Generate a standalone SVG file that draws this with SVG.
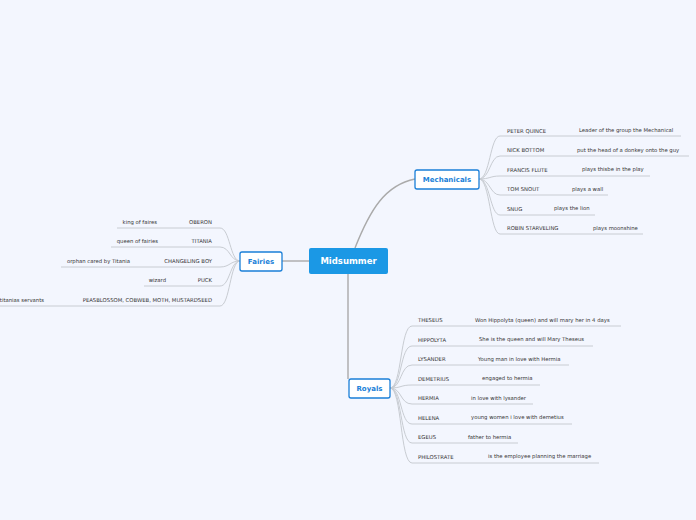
<svg xmlns="http://www.w3.org/2000/svg" width="696" height="520" viewBox="0 0 696 520">
<style>
.t{font-family:"DejaVu Sans",sans-serif;font-size:5.3px;fill:#333}
.b{fill:#fff;stroke:#1a7fd8;stroke-width:1.3}
.bt{font-family:"DejaVu Sans",sans-serif;font-size:7px;font-weight:bold;fill:#1a7fd8;text-anchor:middle}
.c{fill:none;stroke:#c8ccd2;stroke-width:1}
.m{fill:none;stroke:#aaa;stroke-width:1.4}
</style>
<rect width="696" height="520" fill="#f3f6fe"/>
<g id="connectors">
<path class="m" d="M355 248 C370 210 385 185 415 179"/>
<path class="m" d="M282 261 H309"/>
<path class="m" d="M348 274 V379"/>
<g id="mech-links">
<path class="c" d="M479 179 C490 179 490 136 500 136 H681"/>
<path class="c" d="M479 179 C490 179 490 156 500 156 H689"/>
<path class="c" d="M479 179 C490 179 490 176 500 176 H650"/>
<path class="c" d="M479 179 C490 179 490 195 500 195 H608"/>
<path class="c" d="M479 179 C490 179 490 215 500 215 H595"/>
<path class="c" d="M479 179 C490 179 490 234 500 234 H643"/>
</g>
<g id="fairy-links">
<path class="c" d="M240 261 C230 261 230 228 220 228 H117"/>
<path class="c" d="M240 261 C230 261 230 247 220 247 H111"/>
<path class="c" d="M240 261 C230 261 230 267 220 267 H61"/>
<path class="c" d="M240 261 C230 261 230 286 220 286 H144"/>
<path class="c" d="M240 261 C230 261 230 306 220 306 H0"/>
</g>
<g id="royal-links">
<path class="c" d="M390 388 C402 388 400 326 412 326 H621"/>
<path class="c" d="M390 388 C402 388 400 346 412 346 H593"/>
<path class="c" d="M390 388 C402 388 400 365 412 365 H569"/>
<path class="c" d="M390 388 C402 388 400 385 412 385 H540"/>
<path class="c" d="M390 388 C402 388 400 404 412 404 H533"/>
<path class="c" d="M390 388 C402 388 400 424 412 424 H572"/>
<path class="c" d="M390 388 C402 388 400 443 412 443 H518"/>
<path class="c" d="M390 388 C402 388 400 463 412 463 H599"/>
</g>
</g>
<g id="midsummer"><rect x="309" y="248" width="79" height="26" rx="2" fill="#1b98e5"/><text x="348.5" y="264" font-family="DejaVu Sans,sans-serif" font-size="8.5" font-weight="bold" fill="#fff" text-anchor="middle">Midsummer</text></g>
<g id="mechanicals"><rect class="b" x="415" y="170" width="64" height="19" rx="2"/><text class="bt" x="447" y="182">Mechanicals</text></g>
<g id="fairies"><rect class="b" x="240" y="252" width="42" height="19" rx="2"/><text class="bt" x="261" y="264">Fairies</text></g>
<g id="royals"><rect class="b" x="349" y="379" width="41" height="19" rx="2"/><text class="bt" x="369.5" y="391">Royals</text></g>
<g id="mech-items" class="t">
<text class="t" x="507" y="133">PETER QUINCE</text><text class="t" x="579" y="132">Leader of the group the Mechanical</text>
<text class="t" x="507" y="152">NICK BOTTOM</text><text class="t" x="577" y="152">put the head of a donkey onto the guy</text>
<text class="t" x="507" y="172">FRANCIS FLUTE</text><text class="t" x="582" y="171">plays thisbe in the play</text>
<text class="t" x="507" y="191">TOM SNOUT</text><text class="t" x="572" y="191">plays a wall</text>
<text class="t" x="507" y="211">SNUG</text><text class="t" x="554" y="210">plays the lion</text>
<text class="t" x="507" y="230">ROBIN STARVELING</text><text class="t" x="593" y="230">plays moonshine</text>
</g>
<g id="fairy-items" text-anchor="end">
<text class="t" x="212" y="224" text-anchor="end">OBERON</text><text class="t" x="157" y="224" text-anchor="end">king of faires</text>
<text class="t" x="212" y="243" text-anchor="end">TITANIA</text><text class="t" x="158" y="243" text-anchor="end">queen of fairies</text>
<text class="t" x="212" y="263" text-anchor="end">CHANGELING BOY</text><text class="t" x="130" y="263" text-anchor="end">orphan cared by Titania</text>
<text class="t" x="212" y="282" text-anchor="end">PUCK</text><text class="t" x="166" y="282" text-anchor="end">wizard</text>
<text class="t" x="212" y="302" text-anchor="end">PEASBLOSSOM, COBWEB, MOTH, MUSTARDSEED</text><text class="t" x="44" y="302" text-anchor="end">titanias servants</text>
</g>
<g id="royal-items">
<text class="t" x="418" y="322">THESEUS</text><text class="t" x="475" y="322">Won Hippolyta (queen) and will mary her in 4 days</text>
<text class="t" x="418" y="342">HIPPOLYTA</text><text class="t" x="479" y="341">She is the queen and will Mary Theseus</text>
<text class="t" x="418" y="361">LYSANDER</text><text class="t" x="478" y="361">Young man in love with Hermia</text>
<text class="t" x="418" y="381">DEMETRIUS</text><text class="t" x="482" y="380">engaged to hermia</text>
<text class="t" x="418" y="400">HERMIA</text><text class="t" x="471" y="400">in love with lysander</text>
<text class="t" x="418" y="420">HELENA</text><text class="t" x="471" y="419">young women i love with demetius</text>
<text class="t" x="418" y="439">EGEUS</text><text class="t" x="468" y="439">father to hermia</text>
<text class="t" x="418" y="459">PHILOSTRATE</text><text class="t" x="488" y="458">is the employee planning the marriage</text>
</g>
</svg>
